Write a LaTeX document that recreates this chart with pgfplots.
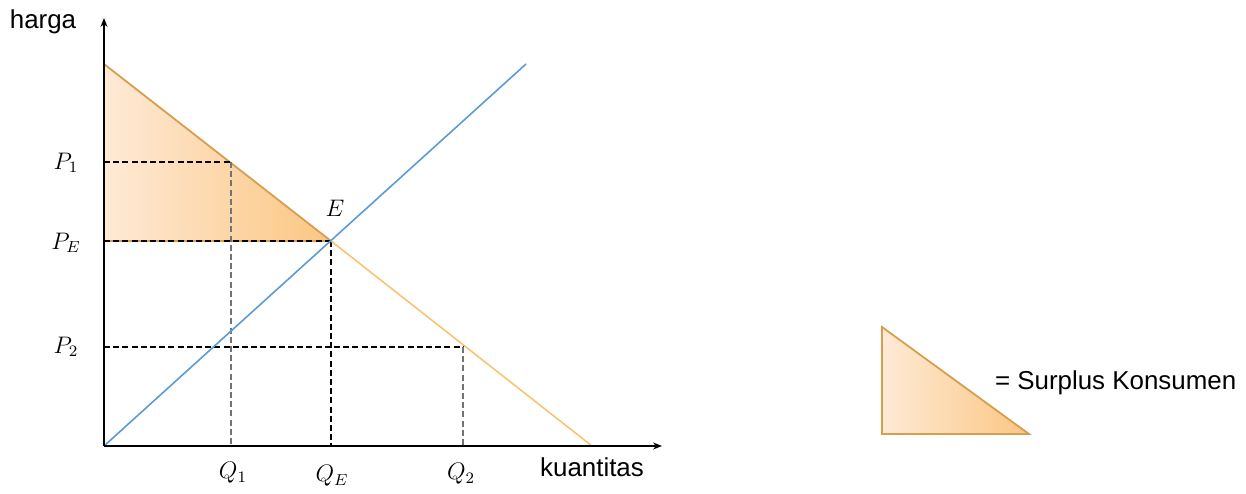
\documentclass[border=0pt]{standalone}
\usepackage{pgfplots}
\pgfplotsset{compat=1.18}
\usetikzlibrary{arrows.meta}
\usepackage{fontspec}
\setmainfont{Liberation Sans}
\definecolor{supplyblue}{RGB}{91,155,213}
\definecolor{demandor}{RGB}{250,195,115}
\definecolor{edgeor}{RGB}{214,158,78}
\definecolor{shadeL}{RGB}{254,234,214}
\definecolor{shadeR}{RGB}{251,198,130}
\definecolor{dgray}{RGB}{115,115,115}
\begin{document}
\begin{tikzpicture}
\begin{axis}[x=0.5bp, y=0.5bp, xmin=-104, xmax=1142, ymin=-46, ymax=446,
  hide axis, clip=false]
\path (axis cs:-104,-46) rectangle (axis cs:1142,446);
% consumer surplus
\addplot[draw=edgeor, line width=0.9pt, left color=shadeL, right color=shadeR] coordinates {(0,382) (0,205) (227,205)} -- cycle;
% dashed guides
\addplot[black, line width=0.75pt, dash pattern=on 3bp off 1.6bp] coordinates {(0,284) (127,284)};
\addplot[black, line width=0.75pt, dash pattern=on 3bp off 1.6bp] coordinates {(0,205) (227,205)};
\addplot[black, line width=0.75pt, dash pattern=on 3bp off 1.6bp] coordinates {(0,99) (359,99)};
\addplot[dgray, line width=0.8pt, dash pattern=on 3bp off 1.6bp] coordinates {(127,284) (127,0)};
\addplot[black, line width=0.75pt, dash pattern=on 3bp off 1.6bp] coordinates {(227,205) (227,0)};
\addplot[dgray, line width=0.8pt, dash pattern=on 3bp off 1.6bp] coordinates {(359,99) (359,0)};
% demand beyond E
\addplot[demandor, line width=0.8pt] coordinates {(227,205) (488,0)};
% supply
\addplot[supplyblue, line width=0.8pt] coordinates {(0,0) (422,382)};
% axes
\draw[line width=0.85pt, -{Stealth[length=4.5pt,width=3.5pt]}] (axis cs:0,0) -- (axis cs:558,0);
\draw[line width=0.85pt, -{Stealth[length=4.5pt,width=3.5pt]}] (axis cs:0,0) -- (axis cs:0,428);
% labels
\node[font=\fontsize{13}{15}\selectfont] at (axis cs:-61,424) {harga};
\node[font=\fontsize{13}{15}\selectfont] at (axis cs:488,-21) {kuantitas};
\begin{scope}[every node/.style={font=\fontsize{12}{14}\selectfont}]
\node at (axis cs:-38,283) {$P_1$};
\node at (axis cs:-38,203) {$P_E$};
\node at (axis cs:-38,99) {$P_2$};
\node at (axis cs:129,-27) {$Q_1$};
\node at (axis cs:228,-30) {$Q_E$};
\node at (axis cs:357,-28) {$Q_2$};
\node at (axis cs:231,238) {$E$};
\end{scope}
% legend
\addplot[draw=edgeor, line width=0.9pt, left color=shadeL, right color=shadeR] coordinates {(778,119) (778,12) (925,12)} -- cycle;
\node[anchor=west, font=\fontsize{13}{15}\selectfont] at (axis cs:884,63) {= Surplus Konsumen};
\end{axis}
\end{tikzpicture}
\end{document}
